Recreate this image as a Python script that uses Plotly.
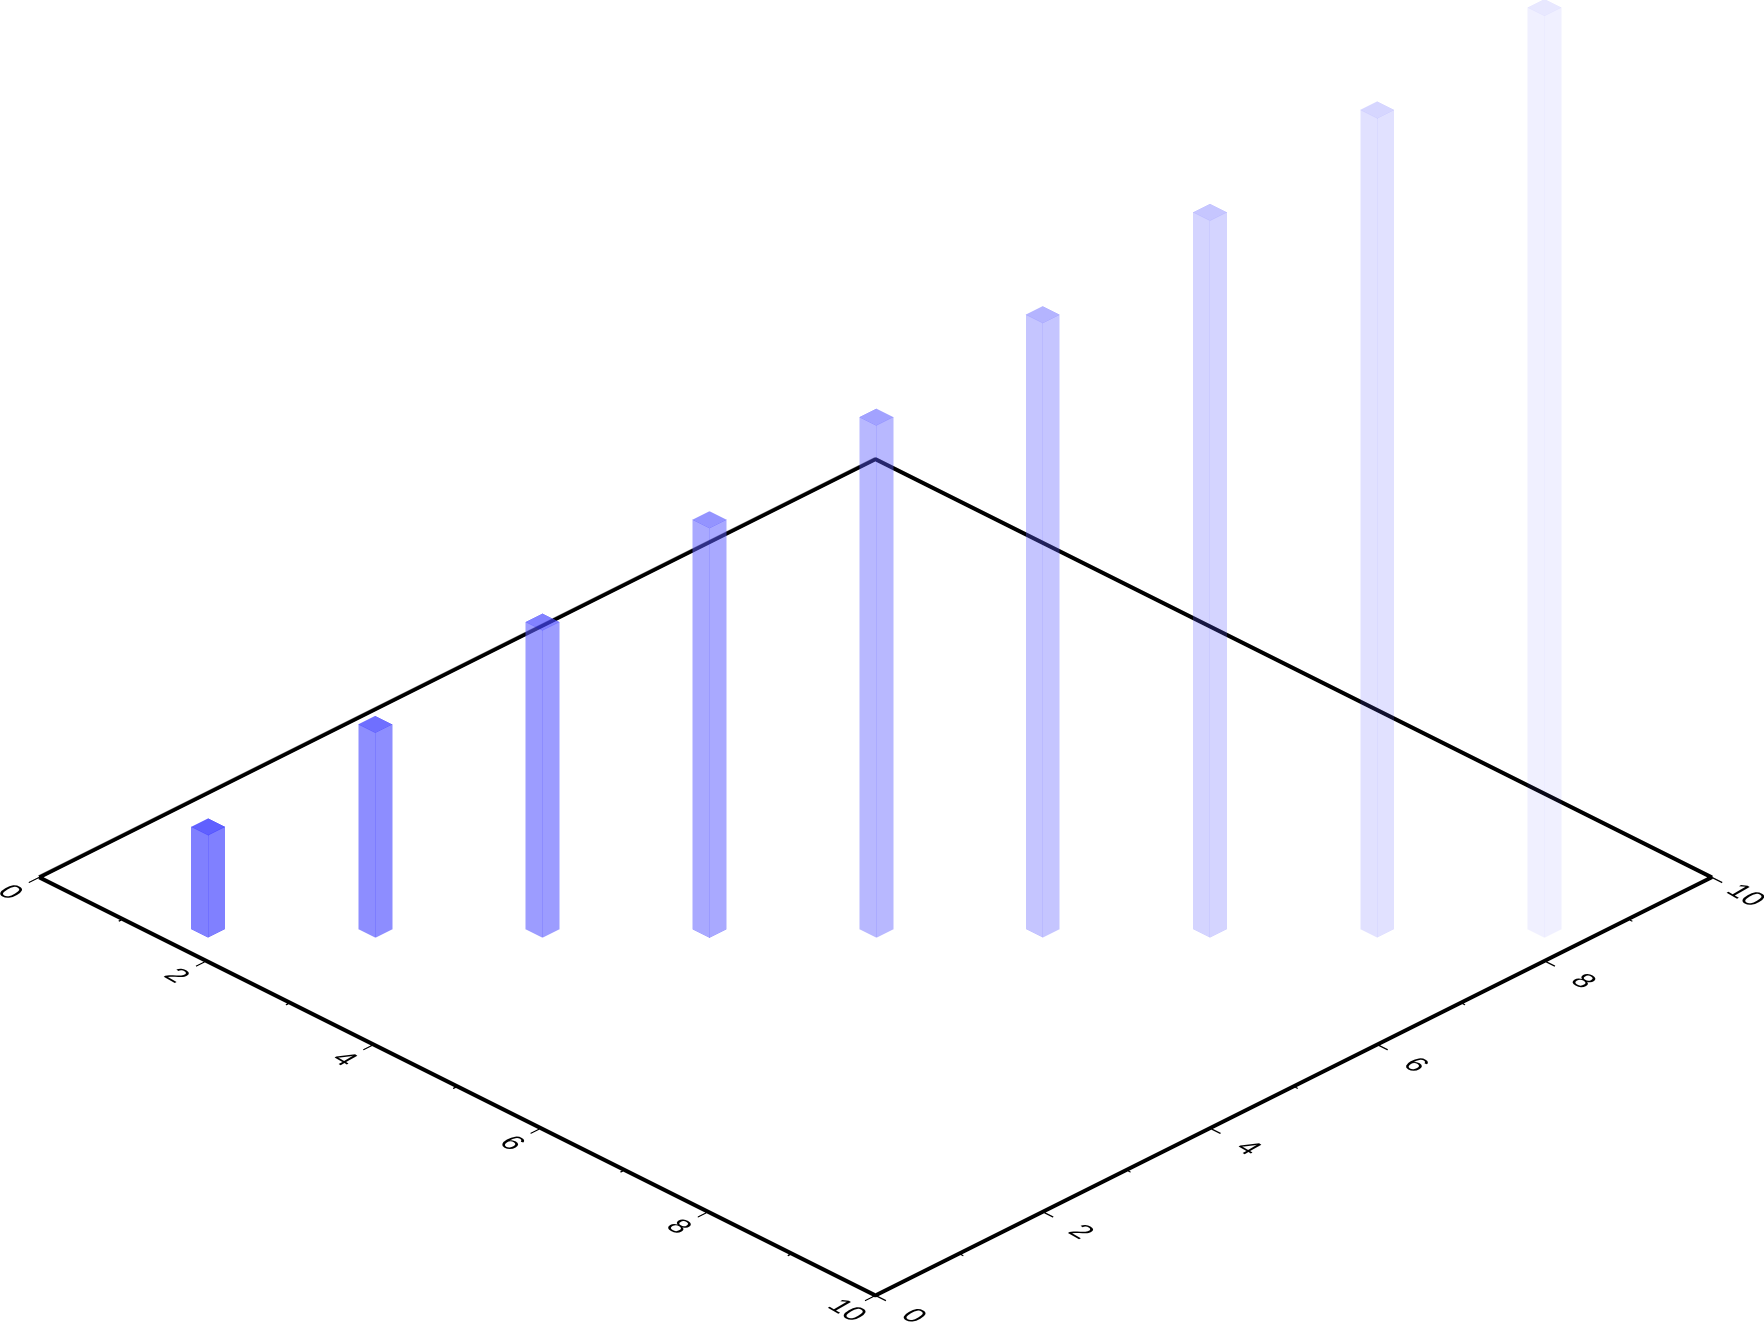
import math
import plotly.graph_objects as go

# Data
bar_x = [1.63, 2.63, 3.63, 4.63, 5.625, 6.62, 7.62, 8.62, 9.62]
bar_y = [0.39, 1.39, 2.39, 3.385, 4.385, 5.38, 6.38, 7.38, 8.38]
bar_h = [1, 2, 3, 4, 5, 6, 7, 8, 9]
major_ticks = [0, 2, 4, 6, 8, 10]
minor_ticks = [1, 3, 5, 7, 9]

# Style
side_opacity = [.77, .69, .60, .52, .43, .35, .26, .18, .09]
top_opacity = [.86, .78, .675, .58, .50, .405, .31, .22, .125]
edge_opacity = [.25, .22, .20, .17, .14, .11, .085, .06, .03]
half = 0.1015
BLUE = "rgb(0,0,255)"
SIDE = "rgb(90,90,255)"
TOP = "rgb(70,70,255)"
FONT = dict(family="Liberation Sans, Arial, sans-serif", size=28, color="#000000")
LIGHT = dict(ambient=1, diffuse=0, specular=0, roughness=1, fresnel=0)

fig = go.Figure()

# axes lines
fig.add_trace(go.Scatter3d(x=[0, 10, 10, 0, 0], y=[0, 0, 10, 10, 0], z=[0] * 5, mode="lines",
                           line=dict(color="#000000", width=8), hoverinfo="skip", showlegend=False))
# ticks
def ticks(vals, length, along_x):
    xs, ys, zs = [], [], []
    for v in vals:
        if along_x:   # axis running along x at y=0, ticks go towards -y
            xs += [v, v, None]; ys += [0, -length, None]
        else:         # axis running along y at x=10, ticks go towards +x
            xs += [10, 10 + length, None]; ys += [v, v, None]
        zs += [0, 0, None]
    return xs, ys, zs

for vals, ln, w in ((major_ticks, 0.125, 2.5), (minor_ticks, 0.05, 2.5)):
    for along in (True, False):
        xs, ys, zs = ticks(vals, ln, along)
        fig.add_trace(go.Scatter3d(x=xs, y=ys, z=zs, mode="lines", connectgaps=False,
                                   line=dict(color="#000000", width=w), hoverinfo="skip", showlegend=False))

# bars
for x0, y0, h, so, to, eo in zip(bar_x, bar_y, bar_h, side_opacity, top_opacity, edge_opacity):
    xa, xb, ya, yb = x0 - half, x0 + half, y0 - half, y0 + half
    # side faces: x=xb and y=ya
    fig.add_trace(go.Mesh3d(
        x=[xb, xb, xb, xb, xa, xa], y=[ya, yb, yb, ya, ya, ya], z=[0, 0, h, h, 0, h],
        i=[0, 0, 0, 0], j=[1, 2, 4, 5], k=[2, 3, 5, 3],
        color=SIDE, opacity=so, flatshading=True, lighting=LIGHT, hoverinfo="skip", showscale=False))
    # top face
    fig.add_trace(go.Mesh3d(
        x=[xa, xb, xb, xa], y=[ya, ya, yb, yb], z=[h, h, h, h],
        i=[0, 0], j=[1, 2], k=[2, 3],
        color=TOP, opacity=to, flatshading=True, lighting=LIGHT, hoverinfo="skip", showscale=False))
    # edges
    fig.add_trace(go.Scatter3d(
        x=[xb, xb, None, xa, xb, xb], y=[ya, ya, None, ya, ya, yb], z=[0, h, None, h, h, h], mode="lines",
        line=dict(color=BLUE, width=1), opacity=eo, hoverinfo="skip", showlegend=False))

# tick labels
annotations = []
for v in major_ticks:
    annotations.append(dict(x=v, y=-0.34, z=0, text=str(v), showarrow=False, textangle=30,
                            font=FONT, xanchor="center", yanchor="middle"))
    annotations.append(dict(x=10 + (0.41 if v == 10 else 0.47), y=v, z=0, text=str(v), showarrow=False,
                            textangle=30, font=FONT, xanchor="center", yanchor="middle"))

hidden = dict(visible=False, range=[-1, 11], autorange=False, showgrid=False, zeroline=False,
              showspikes=False, showbackground=False)

# camera: true isometric, viewed from +x, -y, +z
D = 1.0
A = 2.147
e = math.radians(30)
cx, cy, cz = 0.00696, 0.00696, -0.5166
cam = dict(
    projection=dict(type="orthographic"),
    up=dict(x=0, y=0, z=1),
    center=dict(x=cx, y=cy, z=cz),
    eye=dict(x=cx + D * math.cos(e) / math.sqrt(2), y=cy - D * math.cos(e) / math.sqrt(2), z=cz + D * math.sin(e)),
)

fig.update_layout(
    width=1764, height=1322, autosize=False, showlegend=False,
    margin=dict(l=0, r=0, t=0, b=0, pad=0),
    paper_bgcolor="#ffffff", plot_bgcolor="#ffffff",
    scene=dict(domain=dict(x=[0, 1], y=[0, 1]), xaxis=hidden, yaxis=hidden, zaxis=hidden,
               aspectmode="manual", aspectratio=dict(x=A, y=A, z=A), camera=cam,
               annotations=annotations, bgcolor="#ffffff", dragmode=False),
)

# Lay the rotated tick labels flat on the ground plane (isometric shear)
POST = """
document.body.style.margin='0';
function flatten(){
  document.querySelectorAll('g.annotation-text-g').forEach(function(g){
    var t=g.getAttribute('transform')||'';
    var m=t.match(/rotate\\(\\s*30[ ,]+([-\\d.]+)[ ,]+([-\\d.]+)\\s*\\)/);
    if(!m) return;
    var cx=+m[1], cy=+m[2], a=.866, b=.5, c=-.866, d=.5;
    var e=cx-(a*cx+c*cy), f=cy-(b*cx+d*cy);
    g.setAttribute('transform','matrix('+[a,b,c,d,e,f].join(' ')+')');
  });
}
flatten(); setInterval(flatten,30);
"""
fig.write_html("out.html", post_script=POST, config=dict(displayModeBar=False))
